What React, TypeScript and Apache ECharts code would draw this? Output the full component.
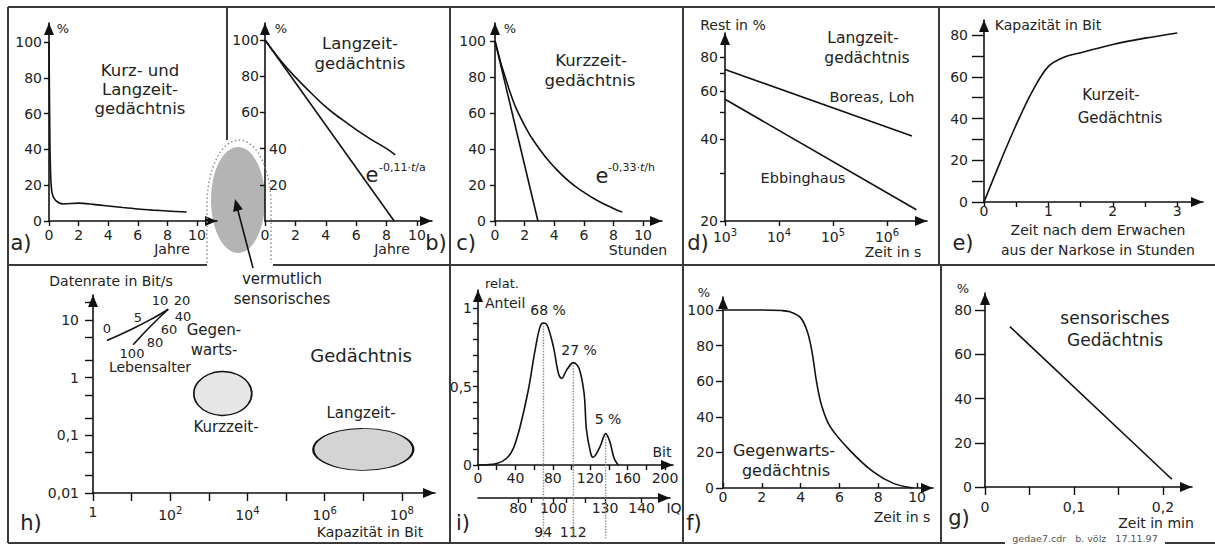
import React, { useEffect, useRef } from "react";
import * as echarts from "echarts";

const FONT = "DejaVu Sans";
const INK = "#111";
const TXT = "#222";

// ---------- data ----------
// a) Kurz- und Langzeitgedächtnis
const aYears = [0, 0.06, 0.12, 0.2, 0.35, 0.6, 1, 2, 3, 4, 5, 6, 7, 8, 9.3];
const aPercent = [100, 45, 24, 16, 12.5, 10.5, 9.5, 10, 9.3, 8.4, 7.5, 6.7, 6.1, 5.6, 5];
// b) Langzeitgedächtnis
const bLineYears = [0, 8.5];
const bLinePercent = [100, 0];
const bCurveYears = [0, 1, 2, 3, 4, 5, 6, 7, 8, 8.57];
const bCurvePercent = [100, 89, 79.5, 71, 63, 56.5, 50.5, 45, 40, 36.5];
// c) Kurzzeitgedächtnis
const cLineHours = [0, 2.9];
const cLinePercent = [100, 0];
const cCurveHours = [0, 1, 2, 3, 4, 5, 6, 7, 8, 8.6];
const cCurvePercent = [100, 72, 53, 40, 30, 22, 16, 11, 7, 5];
// d) Langzeitgedächtnis (log-log)
const dBoreasSeconds = [1e3, 2.9e6];
const dBoreasRest = [72, 41];
const dEbbSeconds = [1e3, 3.5e6];
const dEbbRest = [56, 22];
// e) Kurzzeit-Gedächtnis nach Narkose
const eHours = [0, 0.25, 0.5, 0.75, 1, 1.25, 1.5, 2, 2.5, 3];
const eBits = [0, 19, 37, 53, 65, 69.5, 71.5, 75.5, 78.5, 81];
// h) Datenrate vs Kapazität
const hYoungCap = [2.3, 11, 36, 89];
const hYoungRate = [4.4, 7.1, 10.7, 15.3];
const hOldCap = [89, 30, 11];
const hOldRate = [15.3, 7.6, 3.7];
const hStoreCap = [2300, 1e7];
const hStoreRate = [0.53, 0.057];
// i) Verteilung
const iBits = [0, 20, 30.7, 37.8, 45, 53.8, 61, 66.3, 70, 74, 80.6, 86, 89.5, 94.8, 102, 108, 113.4, 116, 120.5, 123, 130.5, 136.5, 141, 145.5, 150];
const iShare = [0, 0.01, 0.043, 0.106, 0.244, 0.478, 0.73, 0.88, 0.905, 0.89, 0.754, 0.584, 0.552, 0.605, 0.652, 0.616, 0.457, 0.223, 0.075, 0.049, 0.117, 0.2, 0.148, 0.043, 0];
const iPeakBits = [70, 102, 136.5];
const iPeakShare = [0.905, 0.652, 0.2];
const iPeakLabels = ["68 %", "27 %", "5 %"];
const iqTickBits = [43, 57.4, 80.5, 94.8, 114.4, 135.8, 175];
const iqLabelBits = [43, 80.5, 135.8, 175];
const iqLabels = ["80", "100", "130", "140"];
const iqLowerBits = [69.8, 101.8];
const iqLowerLabels = ["94", "112"];
// f) Gegenwartsgedächtnis
const fSeconds = [0, 1, 2, 3, 3.45, 3.97, 4.31, 4.57, 4.83, 5.09, 5.52, 6.55, 7.75, 8.78, 9.8];
const fPercent = [100, 100, 100, 99.7, 99, 96, 89, 77.5, 59, 46, 34.5, 21, 9, 2.6, 0];
// g) sensorisches Gedächtnis
const gMinutes = [0.028, 0.21];
const gPercent = [72.5, 3.5];

// tick values
const ticks0to10 = [0, 2, 4, 6, 8, 10];
const ticks0to100 = [0, 20, 40, 60, 80, 100];
const dRestTicks = [20, 30, 40, 50, 60, 70, 80];
const dRestLabels = [20, 40, 60, 80];
const dTimeTicks = [1e3, 1e4, 1e5, 1e6];
const eBitTicks = [0, 10, 20, 30, 40, 50, 60, 70, 80];
const eBitLabels = [0, 20, 40, 60, 80];
const eHourTicks = [0, 0.5, 1, 1.5, 2, 2.5, 3];
const eHourLabels = [0, 1, 2, 3];
const hRateTicks = [0.01, 0.02, 0.05, 0.1, 0.2, 0.5, 1, 2, 5, 10, 20];
const hRateLabels = [0.01, 0.1, 1, 10];
const hCapTicks = [1, 10, 1e2, 1e3, 1e4, 1e5, 1e6, 1e7, 1e8];
const hCapLabels = [1, 1e2, 1e4, 1e6, 1e8];
const iShareTicks = [0, 0.1, 0.2, 0.3, 0.4, 0.5, 0.6, 0.7, 0.8, 0.9, 1];
const iShareLabels = [0, 0.5, 1];
const iBitTicks = [0, 20, 40, 60, 80, 100, 120, 140, 160, 180, 200];
const iBitLabels = [0, 40, 80, 120, 160, 200];
const gPercentTicks = [0, 20, 40, 60, 80];
const gMinuteTicks = [0, 0.05, 0.1, 0.15, 0.2];
const gMinuteLabels = [0, 0.1, 0.2];

echarts.graphic.registerShape(
  "dotOutline",
  echarts.graphic.extendPath("M207,263 L207,205 A32,65 0 0 1 271,205 L271,263", {})
);

const zip = (xs: number[], ys: number[]) => xs.map((x, k) => [x, ys[k]]);
const comma = (v: number) => String(v).replace(".", ",");
const pow10 = (v: number) => {
  const e = Math.round(Math.log10(v));
  return e === 0 ? "{b|1}" : `{b|10}{s|${e}}`;
};
const rich = {
  b: { fontFamily: FONT, fontSize: 14, color: TXT },
  s: { fontFamily: FONT, fontSize: 10, color: TXT, padding: [0, 0, 9, 0] },
};

type AxOpt = {
  grid: number;
  type?: string;
  min: number;
  max: number;
  ticks?: number[];
  labels?: number[];
  fmt?: (v: number) => string;
  margin?: number;
  tickLen?: number;
  tickInside?: boolean;
  labelInside?: boolean;
  position?: string;
  line?: boolean;
  useRich?: boolean;
  show?: boolean;
};

function ax(o: AxOpt) {
  return {
    show: o.show !== false,
    type: o.type ?? "value",
    gridIndex: o.grid,
    min: o.min,
    max: o.max,
    position: o.position,
    logBase: 10,
    axisLine:
      o.line === false
        ? { show: false }
        : {
            show: true,
            onZero: false,
            symbol: ["none", "triangle"],
            symbolSize: [10, 12],
            symbolOffset: [0, -6],
            lineStyle: { color: INK, width: 1.6 },
          },
    axisTick: o.ticks
      ? {
          show: true,
          customValues: o.ticks,
          length: o.tickLen ?? 5,
          inside: !!o.tickInside,
          lineStyle: { color: INK, width: 1.4 },
        }
      : { show: false },
    axisLabel: o.labels
      ? {
          show: true,
          customValues: o.labels,
          formatter: o.fmt ?? comma,
          margin: o.margin ?? 6,
          inside: !!o.labelInside,
          fontFamily: FONT,
          fontSize: 14,
          color: TXT,
          rich: o.useRich ? rich : undefined,
        }
      : { show: false },
    splitLine: { show: false },
    splitArea: { show: false },
    minorTick: { show: false },
    minorSplitLine: { show: false },
  };
}

function line(xi: number, yi: number, xs: number[], ys: number[], smooth: number | boolean, extra: any = {}) {
  return {
    type: "line",
    xAxisIndex: xi,
    yAxisIndex: yi,
    data: zip(xs, ys),
    smooth,
    showSymbol: false,
    symbol: "none",
    silent: true,
    lineStyle: { color: INK, width: 1.6 },
    z: 3,
    ...extra,
  };
}

function txt(text: string, x: number, y: number, size: number, align = "center", color = TXT, richStyle?: any) {
  return {
    type: "text",
    x,
    y,
    z: 20,
    silent: true,
    style: {
      text,
      fontFamily: FONT,
      fontSize: size,
      fill: color,
      textAlign: align,
      textVerticalAlign: "middle",
      rich: richStyle,
    },
  };
}

function seg(x1: number, y1: number, x2: number, y2: number, color = "#3a3a3a", w = 2) {
  return { type: "line", z: 15, silent: true, shape: { x1, y1, x2, y2 }, style: { stroke: color, lineWidth: w } };
}

const supRich = { i: { fontFamily: FONT, fontSize: 11, fontStyle: "italic", fill: TXT } };

function buildOption() {
  const grids = [
    { left: 49, top: 23, width: 168, height: 198 }, // a 0
    { left: 265, top: 23, width: 167, height: 198 }, // b 1
    { left: 495, top: 23, width: 167, height: 198 }, // c 2
    { left: 725, top: 33, width: 202, height: 188 }, // d 3
    { left: 984, top: 20, width: 219, height: 182 }, // e 4
    { left: 93, top: 295, width: 342, height: 198 }, // h 5
    { left: 478, top: 290, width: 195, height: 175 }, // i 6
    { left: 478, top: 488, width: 192, height: 10 }, // iq 7
    { left: 723, top: 297, width: 210, height: 191 }, // f 8
    { left: 985, top: 293, width: 207, height: 194 }, // g 9
  ].map((g) => ({ ...g, containLabel: false, outerBoundsMode: "none", show: false }));

  const xAxis = [
    ax({ grid: 0, min: 0, max: 11.35, ticks: ticks0to10, labels: ticks0to10, margin: 7 }), // 0 a
    ax({ grid: 1, min: 0, max: 10.99, ticks: ticks0to10, labels: ticks0to10, margin: 7 }), // 1 b
    ax({ grid: 2, min: 0, max: 11.28, ticks: ticks0to10, labels: ticks0to10, margin: 7 }), // 2 c
    ax({ grid: 3, type: "log", min: 1e3, max: 5.5e6, ticks: dTimeTicks, labels: dTimeTicks, fmt: pow10, useRich: true, margin: 6 }), // 3 d
    ax({ grid: 4, min: 0, max: 3.4, ticks: eHourTicks, labels: eHourLabels, margin: 2 }), // 4 e
    ax({ grid: 5, type: "log", min: 1, max: 7.2e8, ticks: hCapTicks, labels: hCapLabels, fmt: pow10, useRich: true, margin: 12, tickLen: 8 }), // 5 h
    ax({ grid: 6, min: 0, max: 208.5, ticks: iBitTicks, labels: iBitLabels, margin: 6 }), // 6 i
    ax({ grid: 7, min: 0, max: 205.3, ticks: iqTickBits, labels: iqLabelBits, fmt: (v: number) => iqLabels[iqLabelBits.indexOf(v)] ?? "", margin: 3, position: "bottom" }), // 7 iq
    ax({ grid: 7, min: 0, max: 205.3, labels: iqLowerBits, fmt: (v: number) => iqLowerLabels[iqLowerBits.indexOf(v)] ?? "", margin: 27, position: "bottom", line: false }), // 8 iq lower
    ax({ grid: 8, min: 0, max: 10.82, ticks: ticks0to10, labels: ticks0to10, margin: 2, tickInside: true }), // 9 f
    ax({ grid: 9, min: 0, max: 0.2326, ticks: gMinuteTicks, labels: gMinuteLabels, margin: 13, tickLen: 8 }), // 10 g
  ];

  const yAxis = [
    ax({ grid: 0, min: 0, max: 110.6, ticks: ticks0to100, labels: ticks0to100, margin: 7 }), // 0 a
    ax({ grid: 1, min: 0, max: 109.4, ticks: [20, 40, 60, 80, 100], labels: [60, 80, 100], margin: 6, position: "left" }), // 1 b
    ax({ grid: 1, min: 0, max: 109.4, labels: [20, 40], labelInside: true, margin: 4, position: "left", line: false }), // 2 b right labels
    ax({ grid: 2, min: 0, max: 110, ticks: ticks0to100, labels: ticks0to100, margin: 9 }), // 3 c
    ax({ grid: 3, type: "log", min: 20, max: 98, ticks: dRestTicks, labels: dRestLabels, margin: 7 }), // 4 d
    ax({ grid: 4, min: 0, max: 87.2, ticks: eBitTicks, labels: eBitLabels, margin: 16, tickLen: 12 }), // 5 e
    ax({ grid: 5, type: "log", min: 0.01, max: 27, ticks: hRateTicks, labels: hRateLabels, margin: 14, tickLen: 8 }), // 6 h
    ax({ grid: 6, min: 0, max: 1.115, ticks: iShareTicks, labels: iShareLabels, margin: 6 }), // 7 i
    ax({ grid: 7, min: 0, max: 1, show: false }), // 8 iq
    ax({ grid: 8, min: 0, max: 107.3, ticks: ticks0to100, labels: ticks0to100, margin: 9, tickLen: 7 }), // 9 f
    ax({ grid: 9, min: 0, max: 87.7, ticks: gPercentTicks, labels: gPercentTicks, margin: 13, tickLen: 10 }), // 10 g
  ];

  const dotted = { type: "dotted", color: "#8a8a8a", width: 1.4 };
  const series: any[] = [
    line(0, 0, aYears, aPercent, 0.3),
    line(1, 1, bLineYears, bLinePercent, false),
    line(1, 1, bCurveYears, bCurvePercent, true),
    line(2, 3, cLineHours, cLinePercent, false),
    line(2, 3, cCurveHours, cCurvePercent, true),
    line(3, 4, dBoreasSeconds, dBoreasRest, false),
    line(3, 4, dEbbSeconds, dEbbRest, false),
    line(4, 5, eHours, eBits, 0.35),
    line(5, 6, hYoungCap, hYoungRate, true),
    line(5, 6, hOldCap, hOldRate, true),
    {
      type: "scatter",
      xAxisIndex: 5,
      yAxisIndex: 6,
      silent: true,
      z: 2,
      symbol: "circle",
      data: [
        { value: [hStoreCap[0], hStoreRate[0]], symbolSize: [58, 44], itemStyle: { color: "#e6e6e6" } },
        { value: [hStoreCap[1], hStoreRate[1]], symbolSize: [100, 42], itemStyle: { color: "#d4d4d4" } },
      ],
      itemStyle: { borderColor: INK, borderWidth: 1.5, opacity: 1 },
    },
    ...iPeakBits.map((b, k) =>
      line(6, 7, [b, b], [iPeakShare[k], -0.47], false, { lineStyle: dotted, clip: false, z: 1 })
    ),
    line(6, 7, iBits, iShare, 0.35),
    line(9, 9, fSeconds, fPercent, 0.35),
    line(10, 10, gMinutes, gPercent, false),
  ];

  const elements: any[] = [
    // gray sensory ellipse and dotted outline
    { type: "ellipse", z: -1, silent: true, shape: { cx: 238, cy: 200, rx: 27, ry: 53 }, style: { fill: "#b4b4b4" } },
    { type: "dotOutline", z: 1, silent: true, style: { fill: "none", stroke: "#8a8a8a", lineWidth: 1.4, lineDash: [1.5, 2.5] } },
    // arrow
    { type: "line", z: 16, silent: true, shape: { x1: 253, y1: 268, x2: 237, y2: 207 }, style: { stroke: INK, lineWidth: 1.6 } },
    { type: "polygon", z: 16, silent: true, shape: { points: [[235, 199], [242.8, 209.3], [233.2, 211.9]] }, style: { fill: INK } },
    // frame
    seg(8, 7, 1215, 7),
    seg(8, 7, 8, 543),
    seg(8, 265, 207, 265),
    seg(273, 265, 1215, 265),
    seg(8, 543, 1005, 543),
    seg(1165, 543, 1215, 543),
    seg(227, 7, 227, 140),
    seg(450, 7, 450, 543),
    seg(683, 7, 683, 543),
    seg(939, 7, 939, 265),
    seg(941, 265, 941, 543),
    // a
    txt("%", 63, 28, 13),
    txt("Kurz- und", 140, 70, 16.5),
    txt("Langzeit-", 140, 89, 16.5),
    txt("gedächtnis", 140, 108, 16.5),
    txt("Jahre", 172, 249, 14),
    txt("a)", 21, 243, 21),
    // b
    txt("%", 281, 28, 13),
    txt("Langzeit-", 360, 43, 16.5),
    txt("gedächtnis", 360, 63, 16.5),
    txt("e", 372, 175, 21),
    txt("-0,11·{i|t}/a", 379, 167, 11, "left", TXT, supRich),
    txt("Jahre", 392, 249, 14),
    txt("b)", 436, 243, 21),
    // c
    txt("%", 510, 28, 13),
    txt("Kurzzeit-", 591, 60, 16.5),
    txt("gedächtnis", 590, 80, 16.5),
    txt("e", 602, 176, 21),
    txt("-0,33·{i|t}/h", 608, 167, 11, "left", TXT, supRich),
    txt("Stunden", 638, 250, 14),
    txt("c)", 466, 243, 21),
    // d
    txt("Rest in %", 733, 25, 14),
    txt("Langzeit-", 863, 38, 15.5),
    txt("gedächtnis", 867, 58, 15.5),
    txt("Boreas, Loh", 872, 97, 14.5),
    txt("Ebbinghaus", 803, 178, 14.5),
    txt("Zeit in s", 893, 252, 14),
    txt("d)", 698, 243, 21),
    // e
    txt("Kapazität in Bit", 1048, 25, 14),
    txt("Kurzeit-", 1111, 95, 15),
    txt("Gedächtnis", 1120, 118, 15),
    txt("Zeit nach dem Erwachen", 1098, 230, 14),
    txt("aus der Narkose in Stunden", 1098, 250, 14),
    txt("e)", 963, 243, 21),
    // h
    txt("Datenrate in Bit/s", 111, 281, 14),
    txt("0", 107, 328, 13),
    txt("5", 138, 317, 13),
    txt("10", 160, 300, 13),
    txt("20", 182, 300, 13),
    txt("40", 183, 316, 13),
    txt("60", 169, 329, 13),
    txt("80", 155, 342, 13),
    txt("100", 132, 353, 13),
    txt("Lebensalter", 150, 367, 14),
    txt("Gegen-", 214, 330, 15),
    txt("warts-", 214, 350, 15),
    txt("Gedächtnis", 361, 355, 18),
    txt("Langzeit-", 361, 413, 15),
    txt("Kurzzeit-", 226, 427, 15),
    txt("Kapazität in Bit", 370, 532, 14),
    txt("h)", 31, 523, 21),
    txt("vermutlich", 282, 279, 15),
    txt("sensorisches", 282, 299, 15),
    // i
    txt("relat.", 485, 283, 13, "left"),
    txt("Anteil", 485, 303, 14, "left"),
    ...iPeakLabels.map((l, k) => txt(l, [548, 579, 608][k], [310, 350, 419][k], 14)),
    txt("Bit", 662, 452, 14),
    txt("IQ", 674, 508, 14),
    txt("i)", 463, 523, 21),
    // f
    txt("%", 704, 292, 13),
    txt("Gegenwarts-", 784, 450, 16),
    txt("gedächtnis", 786, 470, 16),
    txt("Zeit in s", 902, 517, 14),
    txt("f)", 694, 523, 21),
    // g
    txt("%", 963, 288, 13),
    txt("sensorisches", 1115, 318, 17),
    txt("Gedächtnis", 1115, 340, 17),
    txt("Zeit in min", 1156, 523, 14),
    txt("g)", 959, 518, 21),
    // footer
    txt("gedae7.cdr   b. völz   17.11.97", 1085, 538, 9.5, "center", "#555"),
  ];

  return {
    animation: false,
    backgroundColor: "#ffffff",
    textStyle: { fontFamily: FONT },
    grid: grids,
    xAxis,
    yAxis,
    series,
    graphic: { elements },
  };
}

export default function App() {
  const ref = useRef<HTMLDivElement>(null);
  useEffect(() => {
    if (!ref.current) return;
    const chart = echarts.init(ref.current, null, { renderer: "svg" });
    chart.setOption(buildOption() as any);
    return () => chart.dispose();
  }, []);
  return (
    <div
      ref={ref}
      style={{ position: "absolute", left: 0, top: 0, width: 1215, height: 545, background: "#fff" }}
    />
  );
}
